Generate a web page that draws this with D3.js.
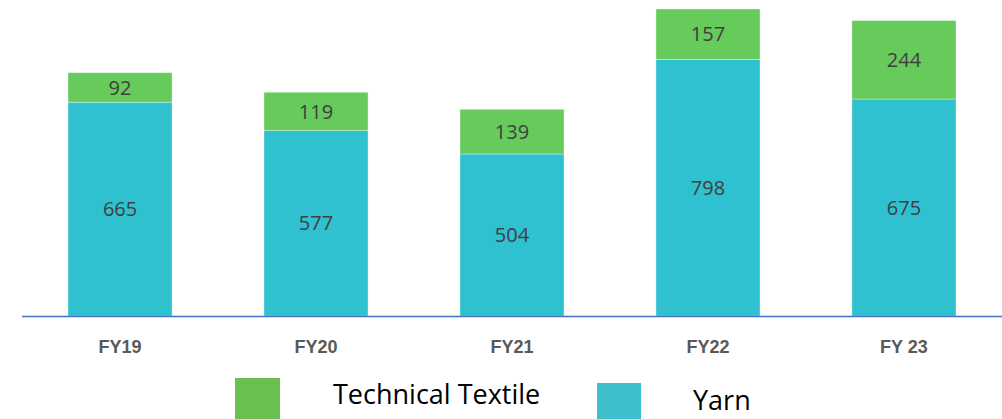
<!DOCTYPE html>
<html>
<head>
<meta charset="utf-8">
<script src="https://cdn.jsdelivr.net/npm/d3@7"></script>
<style>
  body { margin: 0; background: #fff; }
  svg { display: block; font-family: Calibri, Carlito, "Open Sans", "Liberation Sans", sans-serif; }
</style>
</head>
<body>
<svg id="chart"></svg>
<script>
const width = 1002;
const height = 419;

const years = ["FY19", "FY20", "FY21", "FY22", "FY 23"];
const yarn = [665, 577, 504, 798, 675];
const technical = [92, 119, 139, 157, 244];
const seriesNames = ["Technical Textile", "Yarn"];

const svg = d3.select("#chart").attr("width", width).attr("height", height);

const x = d3
  .scaleBand()
  .domain(years)
  .range([22, 1002])
  .paddingInner(0.469)
  .paddingOuter(0.2347);

const y = d3.scaleLinear().domain([0, 955]).range([316, 9]);

const rows = years.map((yr, i) => ({ year: yr, yarn: yarn[i], technical: technical[i] }));
const stacked = d3.stack().keys(["yarn", "technical"])(rows);

const colors = { yarn: "#2fc1d0", technical: "#66cb5a" };

// bars
stacked.forEach((layer) => {
  const g = svg.append("g");
  g.selectAll("rect")
    .data(layer)
    .enter()
    .append("rect")
    .attr("x", (d) => x(d.data.year))
    .attr("y", (d) => y(d[1]))
    .attr("width", x.bandwidth())
    .attr("height", (d) => y(d[0]) - y(d[1]))
    .attr("fill", colors[layer.key])
    .attr("stroke", "#ffffff")
    .attr("stroke-opacity", 0.35)
    .attr("stroke-width", 1);

  g.selectAll("text")
    .data(layer)
    .enter()
    .append("text")
    .attr("x", (d) => x(d.data.year) + x.bandwidth() / 2)
    .attr("y", (d) => (y(d[0]) + y(d[1])) / 2)
    .attr("dy", "0.36em")
    .attr("text-anchor", "middle")
    .attr("font-family", "'Open Sans', sans-serif")
    .attr("font-size", 20)
    .attr("fill", "#404040")
    .text((d) => d.data[layer.key]);
});

// baseline
svg.append("line")
  .attr("x1", 22)
  .attr("x2", 1002)
  .attr("y1", y(0) + 0.5)
  .attr("y2", y(0) + 0.5)
  .attr("stroke", "#4472c4")
  .attr("stroke-width", 1.5);

// category labels
const xAxis = d3.axisBottom(x).tickSize(0).tickPadding(0);
const axisG = svg.append("g").attr("transform", `translate(0,${y(0)})`).call(xAxis);
axisG.select(".domain").remove();
axisG.selectAll("text")
  .attr("y", 37)
  .attr("dy", 0)
  .attr("font-family", null)
  .attr("font-size", 18)
  .attr("font-weight", "bold")
  .attr("fill", "#595959");

// legend
const legendItems = [
  { name: seriesNames[0], color: "#6bbf4e", box: [235, 378, 45, 41], tx: 333, ty: 404 },
  { name: seriesNames[1], color: "#3ebfcb", box: [597, 383, 44, 40], tx: 693, ty: 410 },
];
const lg = svg.append("g");
legendItems.forEach((d) => {
  lg.append("rect")
    .attr("x", d.box[0])
    .attr("y", d.box[1])
    .attr("width", d.box[2])
    .attr("height", d.box[3])
    .attr("fill", d.color);
  lg.append("text")
    .attr("x", d.tx)
    .attr("y", d.ty)
    .attr("font-family", "'Open Sans', sans-serif")
    .attr("font-size", 27)
    .attr("fill", "#000")
    .text(d.name);
});
</script>
</body>
</html>
